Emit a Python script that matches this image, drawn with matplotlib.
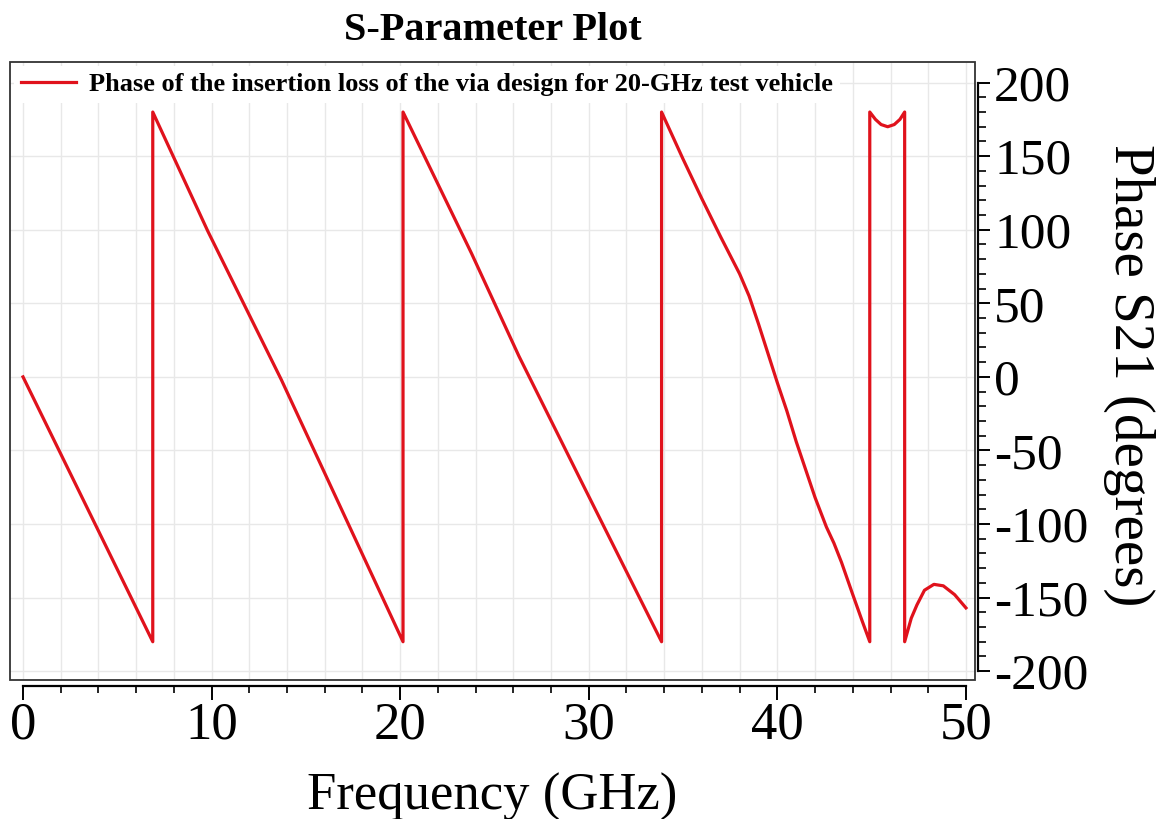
import matplotlib
matplotlib.use("Agg")
from matplotlib import pyplot as plt
from matplotlib.patches import Rectangle
from matplotlib.ticker import FixedLocator

# phase of S21 (GHz, degrees); wraps at +/-180
freq = [0.0, 6.88, 6.88, 9.8, 13.7, 20.15, 20.15, 23.78, 26.3, 29.72, 33.86,
        33.86, 35.0, 36.0, 37.0, 38.0, 38.5, 39.0, 39.5, 40.0, 40.5, 41.0,
        41.5, 42.0, 42.6, 43.0, 43.4, 44.0, 44.5, 44.9,
        44.9, 45.2, 45.5, 45.85, 46.2, 46.5, 46.75,
        46.75, 47.1, 47.4, 47.8, 48.3, 48.8, 49.4, 50.0]
phase = [0, -180, 180, 99, -2, -180, 180, 84, 14, -74, -180,
         180, 148, 121, 95, 70, 55, 36, 16, -4, -23, -44,
         -63, -82, -102, -113, -126, -148, -166, -180,
         180, 175, 171.5, 170, 171.5, 175, 180,
         -180, -164, -155, -145, -141, -142, -148, -157]

x_ticks = [0, 10, 20, 30, 40, 50]
x_minor = list(range(0, 51, 2))
y_ticks = [-200, -150, -100, -50, 0, 50, 100, 150, 200]
y_minor = list(range(-200, 201, 10))
legend_label = 'Phase of the insertion loss of the via design for 20-GHz test vehicle'

plt.rcParams['font.family'] = ['Liberation Serif', 'DejaVu Serif']
plt.rcParams['axes.unicode_minus'] = False

fig = plt.figure(figsize=(11.61, 8.19), dpi=100)
ax = fig.add_axes([10 / 1161, 1 - 680 / 819, 965 / 1161, 618 / 819])

ax.plot(freq, phase, color='#e0121c', lw=2.3, label=legend_label, zorder=3)
ax.set_xlim(-0.69, 50.48)
ax.set_ylim(-206, 214)

# ticks and grid
ax.set_xticks(x_ticks)
ax.set_yticks(y_ticks)
ax.xaxis.set_minor_locator(FixedLocator(x_minor))
ax.yaxis.set_minor_locator(FixedLocator(y_minor))
ax.grid(True, which='both', axis='x', color='#e8e8e8', lw=1.0)
ax.grid(True, which='major', axis='y', color='#e8e8e8', lw=1.0)

# outer frame + offset axis lines
for s in ax.spines.values():
    s.set_visible(False)
ax.add_patch(Rectangle((0, 0), 1, 1, transform=ax.transAxes, fill=False,
                       lw=1.3, edgecolor='#333333', clip_on=False, zorder=5))
ax.spines['bottom'].set_visible(True)
ax.spines['bottom'].set_position(('outward', 4.3))
ax.spines['bottom'].set_bounds(0, 50)
ax.spines['bottom'].set_linewidth(1.6)
ax.spines['right'].set_visible(True)
ax.spines['right'].set_position(('outward', 2.2))
ax.spines['right'].set_bounds(-200, 200)
ax.spines['right'].set_linewidth(1.6)

ax.yaxis.tick_right()
ax.tick_params(axis='x', which='major', direction='out', length=10, width=1.4,
               labelsize=38, pad=1)
ax.tick_params(axis='x', which='minor', direction='out', length=5, width=1.2)
ax.tick_params(axis='y', which='major', direction='out', length=8.5, width=1.4,
               labelsize=37, pad=3, right=True, left=False)
ax.tick_params(axis='y', which='minor', direction='out', length=5.5, width=1.2,
               right=True, left=False)

ax.set_title('S-Parameter Plot', fontsize=29, fontweight='bold', pad=16)
ax.set_xlabel('Frequency (GHz)', fontsize=38)
ax.xaxis.set_label_coords(0.5, -0.21)
ax.xaxis.label.set_va('baseline')
ax.yaxis.set_label_position('right')
ax.set_ylabel('Phase S21 (degrees)', fontsize=41)
ax.yaxis.label.set(rotation=270, rotation_mode='default', ha='center', va='center')
ax.yaxis.set_label_coords(1.16, 0.494)

leg = ax.legend(loc='upper left', bbox_to_anchor=(0.0, 1.0), frameon=True,
                fancybox=False, facecolor='white', edgecolor='none', framealpha=1,
                prop={'weight': 'bold', 'size': 19}, handlelength=2.1,
                handletextpad=0.5, borderpad=0.25, borderaxespad=0.15)
leg.set_zorder(4)

fig.savefig('out.png', dpi=100)
